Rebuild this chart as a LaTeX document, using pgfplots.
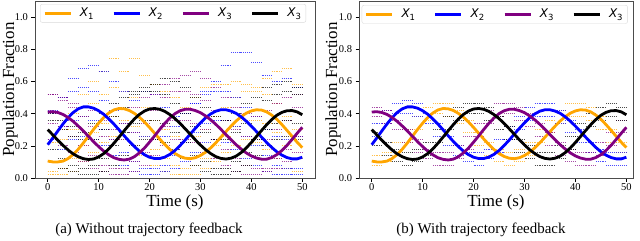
\documentclass[border=0pt]{standalone}
\usepackage{fontspec}
\setmainfont{Liberation Serif}
\newfontfamily\djv{DejaVu Sans}
\usepackage{pgfplots}
\usepackage{pgfplotstable}
\pgfplotsset{compat=1.18}
\definecolor{mporange}{HTML}{FFA500}
\definecolor{mpblue}{HTML}{0000FF}
\definecolor{mppurple}{HTML}{800080}
\newcommand{\lx}[1]{{\djv\itshape X}\raisebox{-0.25em}{\djv\fontsize{8.5}{8.5}\selectfont #1}}

\pgfplotstableread{
t o b p k
0 0.105 0.207 0.410 0.301
1 0.100 0.249 0.412 0.268
2 0.100 0.293 0.407 0.234
3 0.105 0.336 0.395 0.203
4 0.121 0.375 0.376 0.174
5 0.146 0.407 0.352 0.150
6 0.179 0.430 0.323 0.132
7 0.218 0.442 0.292 0.120
8 0.260 0.442 0.259 0.115
9 0.302 0.434 0.226 0.118
10 0.341 0.418 0.195 0.131
11 0.376 0.396 0.167 0.152
12 0.404 0.367 0.144 0.181
13 0.423 0.335 0.126 0.216
14 0.432 0.300 0.116 0.254
15 0.430 0.263 0.112 0.293
16 0.420 0.228 0.117 0.331
17 0.402 0.196 0.132 0.366
18 0.378 0.167 0.156 0.395
19 0.348 0.145 0.186 0.416
20 0.314 0.129 0.223 0.429
21 0.278 0.121 0.262 0.432
22 0.242 0.121 0.302 0.427
23 0.208 0.130 0.340 0.414
24 0.177 0.147 0.373 0.394
25 0.152 0.171 0.400 0.369
26 0.134 0.202 0.418 0.339
27 0.123 0.236 0.427 0.306
28 0.120 0.273 0.427 0.272
29 0.126 0.309 0.419 0.237
30 0.140 0.343 0.406 0.205
31 0.160 0.374 0.386 0.176
32 0.187 0.398 0.362 0.152
33 0.218 0.415 0.334 0.133
34 0.253 0.424 0.303 0.122
35 0.288 0.424 0.270 0.118
36 0.322 0.416 0.238 0.123
37 0.354 0.402 0.207 0.136
38 0.381 0.380 0.180 0.158
39 0.403 0.353 0.156 0.187
40 0.417 0.322 0.137 0.221
41 0.424 0.289 0.124 0.258
42 0.422 0.254 0.117 0.295
43 0.411 0.221 0.117 0.331
44 0.391 0.190 0.127 0.363
45 0.365 0.163 0.145 0.390
46 0.332 0.142 0.171 0.408
47 0.296 0.127 0.203 0.418
48 0.259 0.119 0.240 0.419
49 0.222 0.119 0.278 0.411
50 0.189 0.129 0.315 0.393
}\meandata

\pgfplotstableread{
t oU oM oN oL bU bM bN bL pU pM pN pL kU kM kN kL
0 0.22 0.22 0.04 0.02 0.30 0.32 0.14 0.06 0.50 0.52 0.34 0.26 0.44 0.42 0.24 0.16
2 0.24 0.22 0.04 0.02 0.40 0.42 0.24 0.10 0.52 0.52 0.34 0.24 0.40 0.36 0.18 0.10
4 0.30 0.24 0.06 0.02 0.50 0.50 0.32 0.18 0.48 0.50 0.32 0.20 0.36 0.30 0.12 0.06
6 0.40 0.30 0.12 0.04 0.62 0.54 0.36 0.24 0.46 0.44 0.26 0.16 0.32 0.26 0.08 0.04
8 0.52 0.38 0.20 0.10 0.68 0.56 0.38 0.26 0.44 0.38 0.20 0.10 0.28 0.24 0.06 0.02
10 0.60 0.46 0.28 0.16 0.70 0.54 0.36 0.24 0.42 0.32 0.14 0.06 0.34 0.24 0.08 0.02
12 0.66 0.52 0.34 0.22 0.66 0.48 0.30 0.20 0.36 0.26 0.08 0.04 0.40 0.30 0.12 0.04
14 0.74 0.56 0.38 0.26 0.60 0.42 0.24 0.14 0.30 0.24 0.06 0.02 0.46 0.38 0.20 0.08
16 0.66 0.54 0.36 0.24 0.54 0.34 0.16 0.08 0.34 0.24 0.06 0.02 0.50 0.44 0.28 0.14
18 0.74 0.50 0.32 0.20 0.48 0.28 0.10 0.04 0.44 0.28 0.10 0.04 0.54 0.52 0.34 0.20
20 0.64 0.44 0.26 0.14 0.54 0.26 0.06 0.02 0.50 0.34 0.16 0.08 0.56 0.54 0.36 0.24
22 0.58 0.36 0.18 0.08 0.52 0.24 0.06 0.02 0.52 0.42 0.24 0.14 0.58 0.54 0.36 0.24
24 0.54 0.30 0.12 0.04 0.44 0.26 0.08 0.04 0.58 0.50 0.32 0.20 0.62 0.52 0.34 0.22
26 0.50 0.26 0.08 0.02 0.38 0.32 0.14 0.06 0.62 0.54 0.36 0.24 0.60 0.46 0.28 0.18
28 0.44 0.24 0.06 0.02 0.40 0.40 0.22 0.10 0.64 0.54 0.36 0.24 0.56 0.40 0.22 0.12
30 0.50 0.26 0.08 0.02 0.46 0.46 0.28 0.16 0.66 0.52 0.34 0.22 0.50 0.32 0.14 0.08
32 0.56 0.30 0.12 0.06 0.54 0.52 0.34 0.22 0.62 0.48 0.30 0.16 0.44 0.28 0.10 0.04
34 0.58 0.38 0.20 0.10 0.60 0.54 0.36 0.24 0.56 0.42 0.24 0.12 0.38 0.24 0.06 0.02
36 0.58 0.44 0.26 0.16 0.70 0.54 0.36 0.22 0.50 0.36 0.18 0.08 0.36 0.24 0.06 0.02
38 0.60 0.50 0.32 0.20 0.78 0.50 0.32 0.18 0.44 0.30 0.12 0.04 0.40 0.28 0.10 0.04
40 0.58 0.54 0.36 0.24 0.78 0.44 0.26 0.12 0.40 0.26 0.08 0.02 0.46 0.34 0.16 0.08
42 0.56 0.54 0.36 0.22 0.72 0.38 0.20 0.08 0.38 0.24 0.06 0.02 0.50 0.42 0.24 0.14
44 0.62 0.52 0.34 0.18 0.64 0.30 0.14 0.04 0.42 0.24 0.06 0.04 0.56 0.48 0.30 0.20
46 0.66 0.46 0.28 0.12 0.60 0.26 0.08 0.02 0.46 0.30 0.12 0.06 0.58 0.52 0.34 0.24
48 0.68 0.38 0.20 0.06 0.62 0.24 0.06 0.02 0.50 0.36 0.18 0.10 0.60 0.54 0.36 0.26
50 0.58 0.30 0.12 0.04 0.56 0.26 0.06 0.02 0.52 0.44 0.26 0.16 0.56 0.52 0.34 0.24
}\leftnoise

\pgfplotstableread{
t oA oB bA bB pA pB kA kB
0 0.14 0.08 0.24 0.18 0.44 0.38 0.34 0.28
2 0.14 0.08 0.34 0.26 0.44 0.38 0.28 0.20
4 0.16 0.10 0.42 0.34 0.42 0.34 0.22 0.14
6 0.22 0.14 0.46 0.40 0.36 0.30 0.18 0.10
8 0.30 0.22 0.48 0.40 0.30 0.22 0.16 0.08
10 0.38 0.30 0.46 0.38 0.24 0.16 0.18 0.10
12 0.44 0.36 0.40 0.34 0.18 0.12 0.22 0.14
14 0.46 0.40 0.34 0.26 0.16 0.08 0.30 0.22
16 0.46 0.38 0.26 0.20 0.16 0.08 0.38 0.30
18 0.42 0.34 0.20 0.14 0.20 0.12 0.44 0.36
20 0.36 0.28 0.16 0.10 0.26 0.18 0.46 0.40
22 0.28 0.20 0.16 0.08 0.34 0.26 0.46 0.40
24 0.22 0.14 0.18 0.12 0.42 0.34 0.44 0.36
26 0.18 0.10 0.24 0.16 0.46 0.38 0.38 0.30
28 0.16 0.08 0.32 0.24 0.46 0.40 0.32 0.24
30 0.18 0.10 0.38 0.30 0.44 0.36 0.24 0.16
32 0.22 0.14 0.44 0.36 0.40 0.32 0.20 0.12
34 0.30 0.22 0.46 0.38 0.34 0.26 0.16 0.08
36 0.36 0.28 0.46 0.38 0.28 0.20 0.16 0.08
38 0.42 0.34 0.42 0.34 0.22 0.14 0.20 0.12
40 0.46 0.38 0.36 0.28 0.18 0.10 0.26 0.18
42 0.46 0.38 0.30 0.22 0.16 0.08 0.34 0.26
44 0.44 0.36 0.22 0.16 0.16 0.08 0.40 0.32
46 0.38 0.30 0.18 0.10 0.22 0.14 0.44 0.36
48 0.30 0.22 0.16 0.08 0.28 0.20 0.46 0.38
50 0.22 0.16 0.16 0.08 0.36 0.28 0.44 0.36
}\rightnoise

\pgfplotsset{
  panel/.style={
    scale only axis, height=177bp,
    ymin=0, ymax=1.1,
    xtick={0,10,20,30,40,50},
    ytick={0,0.2,0.4,0.6,0.8,1.0},
    yticklabel style={/pgf/number format/.cd, fixed, fixed zerofill, precision=1},
    xticklabel style={yshift=1.5bp},
    /pgf/number format/assume math mode=true,
    tick align=outside, xtick pos=bottom, ytick pos=left,
    major tick length=3.5bp,
    tick style={black, line width=0.6bp},
    axis line style={black!70, line width=0.6bp},
    tick label style={font=\fontsize{10.5}{10.5}\selectfont},
    xlabel={Time (s)}, ylabel={Population Fraction},
    label style={font=\fontsize{17}{17}\selectfont, inner sep=0pt},
    legend columns=4,
    legend image code/.code={\draw[##1, line width=2.6bp] (0bp,0bp) -- (26bp,0bp);},
    legend style={draw=black!15, rounded corners=2bp, fill=white, fill opacity=0.85, text opacity=1,
      font=\fontsize{12}{12}\selectfont, inner xsep=3bp, inner ysep=2bp,
      /tikz/every odd column/.append style={column sep=6bp},
      /tikz/every even column/.append style={column sep=17bp}},
  },
  mean/.style={line width=2.8bp},
  noise/.style={jump mark right, line width=1bp, dash pattern=on 0.8bp off 1.1bp, opacity=0.7, forget plot},
}

\begin{document}
\begin{tikzpicture}
\useasboundingbox (0,0) rectangle (640bp,241bp);
\begin{axis}[panel, at={(35bp,63bp)}, anchor=south west, width=280bp,
  xmin=-2.5, xmax=52.5,
  xlabel style={at={(axis description cs:0.5,-0.137)}, anchor=center},
  ylabel style={at={(axis description cs:-0.0893,0.5)}, anchor=center},
  legend style={at={(axis description cs:0.018,0.983)}, anchor=north west}]
\foreach \c/\s in {oU/mporange,oM/mporange,oN/mporange,oL/mporange,bU/mpblue,bM/mpblue,bN/mpblue,bL/mpblue,pU/mppurple,pM/mppurple,pN/mppurple,pL/mppurple,kU/black,kM/black,kN/black,kL/black}{
  \edef\temp{\noexpand\addplot[noise, \s] table[x=t, y=\c] {\noexpand\leftnoise};}\temp
}
\addplot[mean, mporange] table[x=t, y=o] {\meandata};
\addplot[mean, mpblue] table[x=t, y=b] {\meandata};
\addplot[mean, mppurple] table[x=t, y=p] {\meandata};
\addplot[mean, black] table[x=t, y=k] {\meandata};
\legend{\lx{1}, \lx{2}, \lx{3}, \lx{3}}
\end{axis}
\begin{axis}[panel, at={(359bp,63bp)}, anchor=south west, width=274bp,
  xmin=-2.5, xmax=51.3,
  xlabel style={at={(axis description cs:0.5,-0.137)}, anchor=center},
  ylabel style={at={(axis description cs:-0.0949,0.5)}, anchor=center},
  legend style={at={(axis description cs:0.010,0.977)}, anchor=north west}]
\foreach \c/\s in {oA/mporange,oB/mporange,bA/mpblue,bB/mpblue,pA/mppurple,pB/mppurple,kA/black,kB/black}{
  \edef\temp{\noexpand\addplot[noise, \s] table[x=t, y=\c] {\noexpand\rightnoise};}\temp
}
\addplot[mean, mporange] table[x=t, y=o] {\meandata};
\addplot[mean, mpblue] table[x=t, y=b] {\meandata};
\addplot[mean, mppurple] table[x=t, y=p] {\meandata};
\addplot[mean, black] table[x=t, y=k] {\meandata};
\legend{\lx{1}, \lx{2}, \lx{3}, \lx{3}}
\end{axis}
\node[font=\fontsize{15}{15}\selectfont] at (149bp,11bp) {(a) Without trajectory feedback};
\node[font=\fontsize{15}{15}\selectfont] at (481bp,11bp) {(b) With trajectory feedback};
\end{tikzpicture}
\end{document}
